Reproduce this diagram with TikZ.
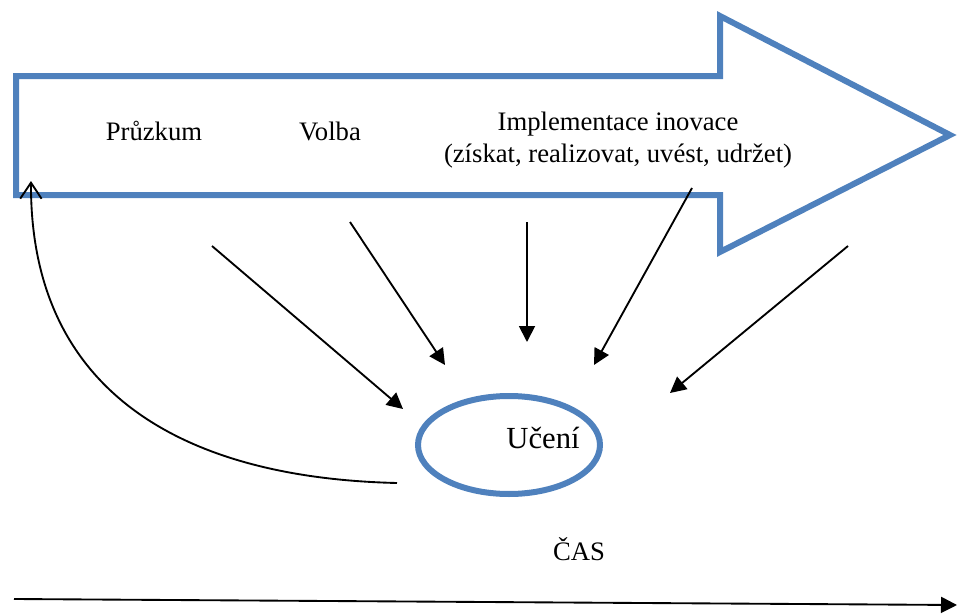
\documentclass[tikz,border=0pt]{standalone}
\usepackage{fontspec}
\setmainfont{Liberation Serif}
\usetikzlibrary{arrows.meta,shapes.geometric}
\definecolor{bigblue}{HTML}{4F81BD}
\tikzset{
  outline/.style={draw=bigblue,line width=4.5pt,line join=miter},
  label/.style={font=\fontsize{20}{24}\selectfont,align=center,inner sep=0pt},
  feed/.style={draw=black,line width=1.4pt,-{Triangle[length=12pt,width=12pt]}},
  back/.style={draw=black,line width=1.4pt,-{Straight Barb[length=12pt,width=16pt,line width=1.4pt]}}
}
\begin{document}
\begin{tikzpicture}[x=0.75pt,y=-0.75pt]
\useasboundingbox (0,0) rectangle (958,614);
% big process arrow
\draw[outline] (16,76) -- (720,76) -- (720,16) -- (950,135) -- (720,252) -- (720,195) -- (16,195) -- cycle;
% stage labels
\node[label] (explore) at (154,131) {Průzkum};
\node[label] (choose) at (330,131) {Volba};
\node[label] (implement) at (618,140) {Implementace inovace\\(získat, realizovat, uvést, udržet)};
% learning ellipse
\node[draw=bigblue,line width=4.5pt,ellipse,minimum width=136.5pt,minimum height=73.5pt,inner sep=0pt,outer sep=0pt] (learn) at (509,445) {};
\node[label,font=\fontsize{23}{28}\selectfont] (learntext) at (543,438) {Učení};
% arrows pointing to learning
\coordinate (s1) at (212,246); \coordinate (e1) at (403,409);
\coordinate (s2) at (350,222); \coordinate (e2) at (445,365);
\coordinate (s3) at (527,222); \coordinate (e3) at (527,342);
\coordinate (s4) at (692,188); \coordinate (e4) at (594,365);
\coordinate (s5) at (848,246); \coordinate (e5) at (670,393);
\draw[feed] (s1) -- (e1);
\draw[feed] (s2) -- (e2);
\draw[feed] (s3) -- (e3);
\draw[feed] (s4) -- (e4);
\draw[feed] (s5) -- (e5);
% feedback curve
\coordinate (fb0) at (397,483);
\coordinate (fb1) at (31,181);
\draw[back] (fb0) .. controls (180,478) and (30,390) .. (fb1);
% time axis
\node[label] (time) at (579,549) {ČAS};
\coordinate (t0) at (14,599);
\coordinate (t1) at (957,605);
\draw[feed] (t0) -- (t1);
\end{tikzpicture}
\end{document}
